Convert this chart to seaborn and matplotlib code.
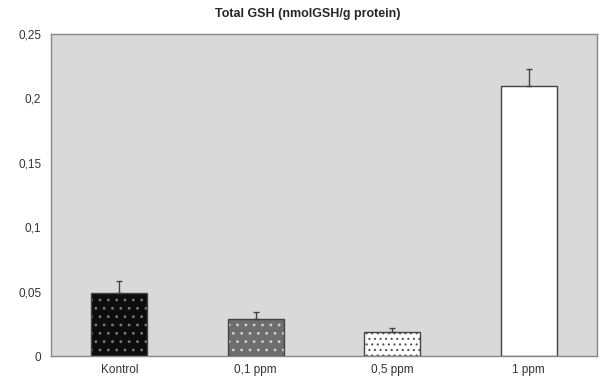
import numpy as np
import pandas as pd
import seaborn as sns
import matplotlib.pyplot as plt
from matplotlib.patches import Rectangle
from matplotlib.ticker import FuncFormatter, MultipleLocator

# values
groups = ['Kontrol', '0,1 ppm', '0,5 ppm', '1 ppm']
gsh = [0.049, 0.029, 0.019, 0.210]
err = [0.009, 0.005, 0.003, 0.013]

fills = ['#0d0d0d', '#6e6e6e', '#ffffff', '#ffffff']
hatch_cols = ['#7a7a7a', '#d0d0d0', '#555555', '#ffffff']
hatches = ['..', '..', '...', '']

df = pd.DataFrame({'group': groups, 'gsh': gsh})

sns.set_style('white')
plt.rcParams['font.family'] = ['Liberation Sans', 'DejaVu Sans']
plt.rcParams['hatch.linewidth'] = 0.8

fig = plt.figure(figsize=(6.01, 3.87), dpi=100)
ax = fig.add_axes([0.085, 0.080, 0.908, 0.832])
ax.set_facecolor('#d9d9d9')

sns.barplot(data=df, x='group', y='gsh', ax=ax, width=0.41,
            color='white', linewidth=0, errorbar=None)
# hatch colour follows the edge colour, so draw the outline separately
for bar, fc, hc, h in zip(ax.patches, fills, hatch_cols, hatches):
    bar.set_facecolor(fc)
    bar.set_edgecolor(hc)
    bar.set_hatch(h)
    bar.set_linewidth(0)
    ax.add_patch(Rectangle((bar.get_x(), bar.get_y()), bar.get_width(), bar.get_height(),
                           fill=False, edgecolor='#444444', linewidth=1, zorder=3))

# positive-only error bars like the original
ax.errorbar(np.arange(len(groups)), gsh, yerr=[np.zeros(len(err)), err],
            fmt='none', ecolor='#444444', elinewidth=1, capsize=2.5, capthick=1, zorder=4)

ax.set_ylim(0, 0.25)
ax.set_xlim(-0.5, len(groups) - 0.5)
ax.yaxis.set_major_locator(MultipleLocator(0.05))
ax.yaxis.set_major_formatter(FuncFormatter(lambda v, p: '0' if v == 0 else f'{v:g}'.replace('.', ',')))
ax.set_xlabel('')
ax.set_ylabel('')
ax.tick_params(axis='both', labelsize=8.5, colors='#333333', length=3, width=0.6, pad=4)
ax.tick_params(axis='x', length=0, pad=6)
for s in ax.spines.values():
    s.set_color('#888888')
    s.set_linewidth(1)

# small minor ticks between categories on the x axis
ax.set_xticks(np.arange(len(groups) + 1) - 0.5, minor=True)
ax.tick_params(axis='x', which='minor', length=3, width=0.6, color='#888888')

ax.set_title('Total GSH (nmolGSH/g protein)', fontsize=9, fontweight='bold', pad=12, x=0.471)

fig.savefig('out.png', dpi=100)
